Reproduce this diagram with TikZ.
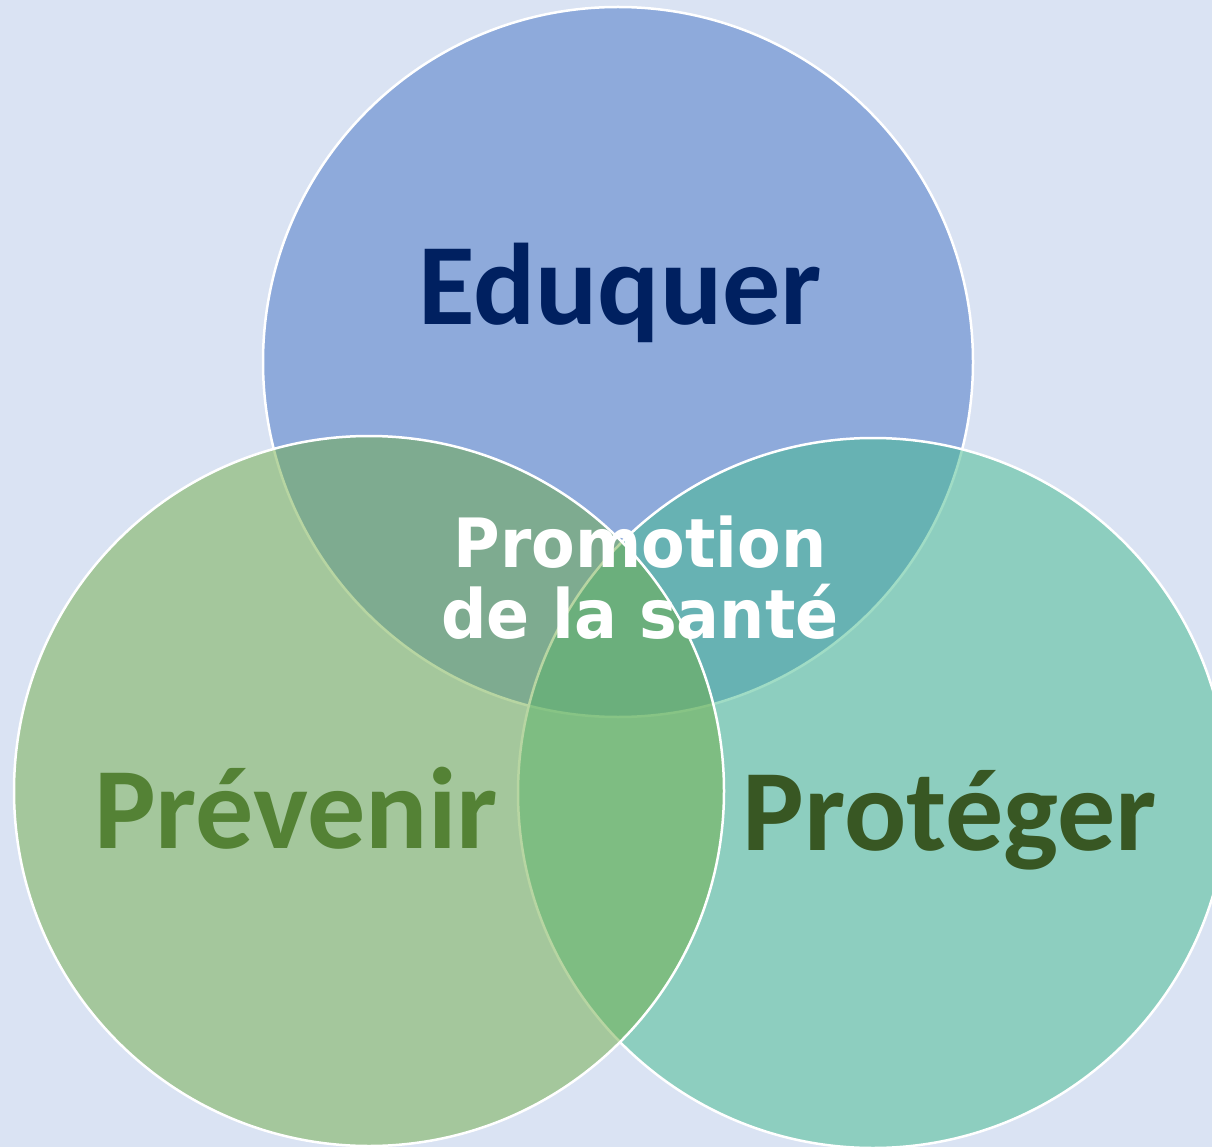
\documentclass[tikz,border=0pt]{standalone}
\usepackage{fontspec}
\setmainfont{Carlito}
\newfontfamily\verd[FakeStretch=0.935]{DejaVu Sans}
\definecolor{bg}{HTML}{DAE3F3}
\definecolor{cblue}{HTML}{4472C4}
\definecolor{cgreen}{HTML}{70AD47}
\definecolor{cteal}{HTML}{42BB8D}
\definecolor{tblue}{HTML}{002060}
\definecolor{tgreen}{HTML}{548235}
\definecolor{tdark}{HTML}{385723}
\tikzset{
  venn/.style={circle, minimum size=710pt, inner sep=0pt, draw=white, line width=2.5pt, fill opacity=0.5},
  bigword/.style={anchor=base, inner sep=0pt, font=\fontsize{116}{116}\selectfont\bfseries},
  promo/.style={anchor=base, inner sep=0pt, text=white, font=\verd\fontsize{68}{68}\selectfont\bfseries}
}
\begin{document}
\begin{tikzpicture}[x=1pt,y=-1pt]
\fill[bg] (0,0) rectangle (1212,1147);
\useasboundingbox (0,0) rectangle (1212,1147);
\begin{scope}
\clip (0,0) rectangle (1212,1147);
\node[venn, fill=cblue] (edu) at (618,362) {};
\node[venn, fill=cteal] (prot) at (873,793) {};
\node[venn, fill=cgreen] (prev) at (369,791) {};
\end{scope}
\node[bigword, text=tblue] (tedu) at (620,325) {Eduquer};
\node[bigword, text=tgreen] (tprev) at (296,848) {Prévenir};
\node[bigword, text=tdark] (tprot) at (950,850) {Protéger};
\node[promo] (p1) at (640,567) {Promotion};
\node[promo] (p2) at (640,638) {de la santé};
\end{tikzpicture}
\end{document}
